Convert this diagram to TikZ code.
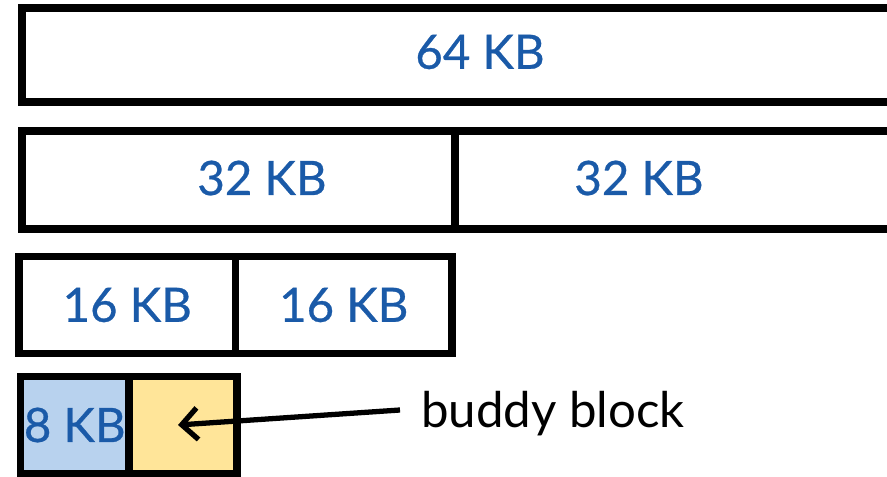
\documentclass[tikz,border=0pt]{standalone}
\usepackage{fontspec}
\setmainfont{Lato}
\newfontfamily\kbfont[FakeBold=0.6]{Lato}
\usetikzlibrary{arrows.meta}

\definecolor{kbblue}{RGB}{26,90,168}
\definecolor{ownfill}{RGB}{184,210,238}
\definecolor{buddyfill}{RGB}{255,229,153}

\tikzset{
	block/.style={draw=black, line width=4pt, inner sep=0pt, outer sep=0pt},
	size/.style={text=kbblue, font=\kbfont\fontsize{27}{32}\selectfont},
}

\begin{document}
\begin{tikzpicture}[x=0.02cm,y=-0.02cm]
	
	\useasboundingbox (0,0) rectangle (887,477);
	\clip (0,0) rectangle (887,477);
	
	% 64 KB
	\node [block, minimum width=913*0.02cm, minimum height=94*0.02cm] (B64) at (478.5,55) {};
	\node [size] (B64txt) at (480,52) {64 KB};
	
	% 32 KB + 32 KB
	\node [block, minimum width=433*0.02cm, minimum height=98*0.02cm] (B32a) at (238.5,180) {};
	\node [block, minimum width=500*0.02cm, minimum height=98*0.02cm] (B32b) at (705,180) {};
	\node [size] (B32atxt) at (262,178) {32 KB};
	\node [size] (B32btxt) at (639,178) {32 KB};
	
	% 16 KB + 16 KB
	\node [block, size, minimum width=216.5*0.02cm, minimum height=96.5*0.02cm] (B16a) at (127.25,305) {16 KB};
	\node [block, size, minimum width=216.5*0.02cm, minimum height=96.5*0.02cm] (B16b) at (343.75,305) {16 KB};
	
	% 8 KB and its buddy
	\node [block, size, fill=ownfill, minimum width=108.5*0.02cm, minimum height=96.5*0.02cm] (B8a) at (74.75,425) {8 KB};
	\node [block, fill=buddyfill, minimum width=108*0.02cm, minimum height=96.5*0.02cm] (B8b) at (183,425) {};
	\draw [block] (B8a.north west) rectangle (B8b.south east);
	
	\node [font=\fontsize{28}{33}\selectfont, anchor=base west, inner sep=0pt] (lbl) at (421,427) {buddy block};
	\coordinate (tail) at (400,410);
	\coordinate (tip) at (178,425);
	\draw [line width=3pt, -{Straight Barb[length=9pt,width=18pt,line width=3pt]}] (tail) -- (tip);
	
\end{tikzpicture}
\end{document}
